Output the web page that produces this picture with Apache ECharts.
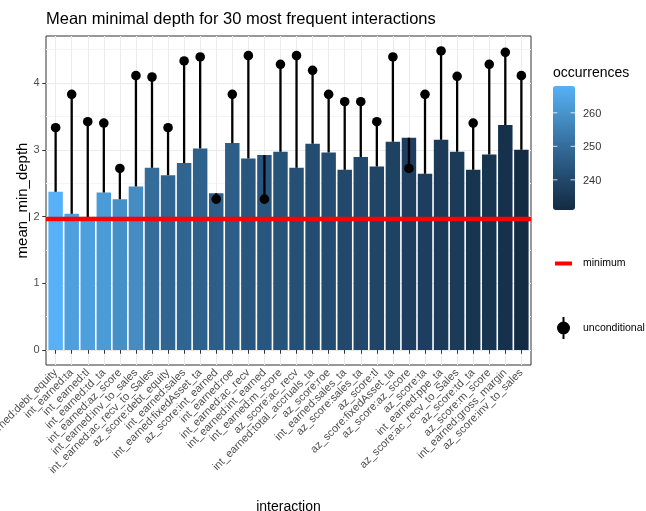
<!DOCTYPE html>
<html>
<head>
<meta charset="utf-8">
<script src="https://cdn.jsdelivr.net/npm/echarts@6/dist/echarts.min.js"></script>
<style>
  html, body { margin: 0; padding: 0; background: #fff; }
  #chart { width: 646px; height: 511px; }
</style>
</head>
<body>
<div id="chart"></div>
<script>
// Interactions, ordered by number of occurrences (most frequent first)
const categories = [
  'int_earned:debt_equity', 'int_earned:ta', 'int_earned:tl', 'int_earned:td_ta',
  'int_earned:az_score', 'int_earned:inv_to_sales', 'int_earned:ac_recv_to_Sales',
  'az_score:debt_equity', 'int_earned:sales', 'int_earned:fixedAsset_ta',
  'az_score:int_earned', 'int_earned:roe', 'int_earned:ac_recv', 'int_earned:int_earned',
  'int_earned:m_score', 'az_score:ac_recv', 'int_earned:total_accruals_ta', 'az_score:roe',
  'int_earned:sales_ta', 'az_score:sales_ta', 'az_score:tl', 'az_score:fixedAsset_ta',
  'az_score:az_score', 'az_score:ta', 'int_earned:ppe_ta', 'az_score:ac_recv_to_Sales',
  'az_score:td_ta', 'az_score:m_score', 'int_earned:gross_margin', 'az_score:inv_to_sales'
];

// Conditional mean minimal depth (bar heights)
const meanMinDepth = [
  2.37, 2.04, 1.98, 2.36, 2.26, 2.45, 2.73, 2.62, 2.80, 3.02,
  2.35, 3.10, 2.87, 2.92, 2.97, 2.73, 3.09, 2.96, 2.70, 2.89,
  2.75, 3.12, 3.18, 2.64, 3.15, 2.97, 2.70, 2.93, 3.37, 3.00
];

// Unconditional mean minimal depth (points)
const uncondMeanMinDepth = [
  3.33, 3.83, 3.42, 3.40, 2.72, 4.11, 4.09, 3.33, 4.33, 4.39,
  2.26, 3.83, 4.41, 2.26, 4.28, 4.41, 4.19, 3.83, 3.72, 3.72,
  3.42, 4.39, 2.72, 3.83, 4.48, 4.10, 3.40, 4.28, 4.46, 4.11
];

// Number of occurrences of each interaction (bar fill)
const occurrences = [
  268, 263, 263, 262, 259, 258, 250, 248, 248, 247,
  246, 246, 244, 244, 243, 242, 241, 241, 240, 240,
  239, 238, 237, 237, 236, 236, 234, 234, 233, 231
];

// Smallest mean minimal depth over all interactions
const minimumDepth = 1.97;

const yTicks = [0, 1, 2, 3, 4];
const yMinorTicks = [0.5, 1.5, 2.5, 3.5, 4.5];
const occurrenceTicks = [240, 250, 260];

const FONT = '"Liberation Sans", Arial, sans-serif';
const positions = categories.map((_, i) => i + 1);

// Axis ranges with 5% padding on the continuous axis and 0.6 on the discrete one
const yTop = Math.max(0, ...meanMinDepth, ...uncondMeanMinDepth, minimumDepth);
const ySpan = yTop - 0;
const yMin = 0 - 0.05 * ySpan;
const yMax = yTop + 0.05 * ySpan;
const xMin = 1 - 0.6;
const xMax = categories.length + 0.6;

const occMin = Math.min(...occurrences);
const occMax = Math.max(...occurrences);

// Colour bar geometry
const barLeft = 553, barTop = 86, barW = 22, barH = 124;
const gradient = ['#132B43', '#22496C', '#336A98', '#458FC6', '#56B1F7'];

const legendGraphics = [
  {
    type: 'text', left: barLeft, top: 66,
    style: { text: 'occurrences', font: '14px ' + FONT, fill: '#000' }
  }
];
occurrenceTicks.forEach(v => {
  const y = barTop + (occMax - v) / (occMax - occMin) * barH;
  legendGraphics.push({
    type: 'line', z: 100,
    shape: { x1: barLeft, y1: y, x2: barLeft + barW / 5, y2: y },
    style: { stroke: '#ffffff', lineWidth: 1, opacity: 0.8 }
  });
  legendGraphics.push({
    type: 'line', z: 100,
    shape: { x1: barLeft + barW * 4 / 5, y1: y, x2: barLeft + barW, y2: y },
    style: { stroke: '#ffffff', lineWidth: 1, opacity: 0.8 }
  });
  legendGraphics.push({
    type: 'text', x: barLeft + barW + 8, y: y + 1, z: 100,
    style: { text: String(v), font: '11px ' + FONT, fill: '#333', verticalAlign: 'middle' }
  });
});

const chart = echarts.init(document.getElementById('chart'), null, { renderer: 'canvas' });

chart.setOption({
  animation: false,
  backgroundColor: '#ffffff',
  textStyle: { fontFamily: FONT },
  title: {
    text: 'Mean minimal depth for 30 most frequent interactions',
    left: 46, top: 11, padding: 0,
    textStyle: { fontSize: 16.5, fontWeight: 'normal', color: '#000', fontFamily: FONT }
  },
  grid: {
    left: 46, right: 115, top: 36, bottom: 146,
    outerBoundsMode: 'none', containLabel: false,
    show: true, backgroundColor: '#ffffff', borderColor: '#333333', borderWidth: 1
  },
  xAxis: {
    type: 'value', min: xMin, max: xMax,
    name: 'interaction', nameLocation: 'middle', nameGap: 135, nameMoveOverlap: false,
    nameTextStyle: { fontSize: 14, color: '#000', fontFamily: FONT },
    axisLine: { show: false },
    axisTick: { show: true, length: 3.7, customValues: positions, lineStyle: { color: '#333333' } },
    axisLabel: {
      customValues: positions, rotate: 45, margin: 6, fontSize: 11, color: '#4D4D4D',
      fontFamily: FONT, showMinLabel: true, showMaxLabel: true, hideOverlap: false,
      formatter: v => categories[Math.round(v) - 1]
    },
    splitLine: { show: true, lineStyle: { color: '#EBEBEB', width: 1 } }
  },
  yAxis: [
    {
      type: 'value', min: yMin, max: yMax,
      name: 'mean_min_depth', nameLocation: 'middle', nameGap: 16, nameRotate: 90,
      nameMoveOverlap: false,
      nameTextStyle: { fontSize: 15, color: '#000', fontFamily: FONT },
      axisLine: { show: false },
      axisTick: { show: true, length: 3.7, customValues: yTicks, lineStyle: { color: '#333333' } },
      axisLabel: { customValues: yTicks, margin: 6.5, fontSize: 11, color: '#4D4D4D', fontFamily: FONT },
      splitLine: { show: true, lineStyle: { color: '#EBEBEB', width: 1 } }
    },
    {
      type: 'value', min: yMin, max: yMax, position: 'left',
      axisLine: { show: false },
      axisTick: { show: false, customValues: yMinorTicks },
      axisLabel: { show: false },
      splitLine: { show: true, lineStyle: { color: '#F4F4F4', width: 1 } }
    }
  ],
  visualMap: {
    type: 'continuous', min: occMin, max: occMax, dimension: 2, seriesIndex: 0,
    calculable: false, hoverLink: false, padding: 0,
    left: barLeft, top: barTop, itemWidth: barW, itemHeight: barH,
    inRange: { color: gradient }
  },
  legend: [
    {
      data: [{ name: 'minimum', icon: 'rect', itemStyle: { color: '#FF0000' } }],
      left: 555, top: 258, padding: 0, itemWidth: 17, itemHeight: 4,
      selectedMode: false,
      textStyle: { fontSize: 10.5, color: '#000', fontFamily: FONT, padding: [0, 0, 0, 6] }
    },
    {
      data: [{
        name: 'unconditional',
        icon: 'path://M7,0 L9,0 L9,22 L7,22 Z M8,4.5 A6.5,6.5 0 1,1 8,17.5 A6.5,6.5 0 1,1 8,4.5 Z',
        itemStyle: { color: '#000000' }
      }],
      left: 557, top: 317, padding: 0, itemWidth: 13, itemHeight: 22,
      selectedMode: false,
      textStyle: { fontSize: 10.5, color: '#000', fontFamily: FONT, padding: [0, 0, 0, 8] }
    }
  ],
  graphic: legendGraphics,
  series: [
    {
      name: 'mean_min_depth',
      type: 'bar',
      barWidth: '90%',
      data: categories.map((_, i) => [positions[i], meanMinDepth[i], occurrences[i]]),
      encode: { x: 0, y: 1 },
      silent: true
    },
    {
      name: 'unconditional',
      type: 'custom',
      itemStyle: { color: '#000000' },
      data: categories.map((_, i) => [positions[i], meanMinDepth[i], uncondMeanMinDepth[i]]),
      encode: { x: 0, y: [1, 2] },
      z: 3,
      renderItem: function (params, api) {
        const x = api.value(0);
        const a = api.coord([x, api.value(1)]);
        const b = api.coord([x, api.value(2)]);
        return {
          type: 'group',
          children: [
            { type: 'line', shape: { x1: a[0], y1: a[1], x2: b[0], y2: b[1] },
              style: { stroke: '#000', lineWidth: 2.3 } },
            { type: 'circle', shape: { cx: b[0], cy: b[1], r: 4.8 }, style: { fill: '#000' } }
          ]
        };
      }
    },
    {
      name: 'minimum',
      type: 'line',
      data: [],
      itemStyle: { color: '#FF0000' },
      lineStyle: { color: '#FF0000' },
      z: 5,
      markLine: {
        silent: true, symbol: 'none', label: { show: false },
        lineStyle: { color: '#FF0000', width: 4.3, type: 'solid' },
        data: [{ yAxis: minimumDepth }]
      }
    }
  ]
});
</script>
</body>
</html>
